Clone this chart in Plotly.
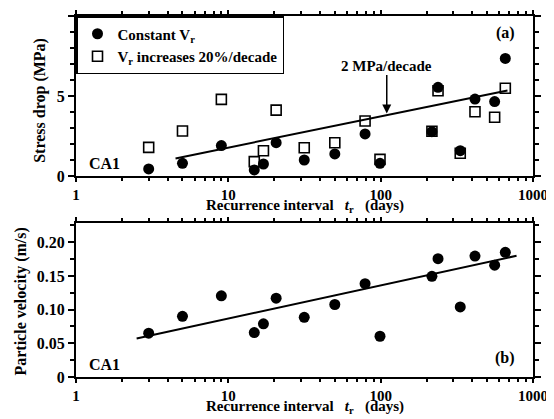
import plotly.graph_objects as go

# ---- data ----
recurrence_days = [3, 5, 9, 14.8, 17, 20.6, 31.5, 50, 79, 99, 217, 238, 333, 416, 560, 658]
stress_constant_vr = [0.44, 0.79, 1.9, 0.38, 0.75, 2.08, 1.0, 1.38, 2.63, 0.79, 2.77, 5.54, 1.58, 4.81, 4.65, 7.35]
stress_vr_increase = [1.79, 2.81, 4.79, 0.9, 1.58, 4.12, 1.77, 2.08, 3.44, 1.04, 2.8, 5.33, 1.42, 4.02, 3.67, 5.48]
particle_velocity = [0.065, 0.09, 0.1205, 0.066, 0.079, 0.117, 0.0886, 0.1076, 0.1386, 0.0605, 0.1495, 0.1757, 0.104, 0.1795, 0.166, 0.185]

fit_stress_x = [4.5, 680]
fit_stress_y = [1.1, 5.35]
fit_vel_x = [2.5, 780]
fit_vel_y = [0.057, 0.18]

stress_ticks = [0, 5, 10]
vel_ticks = [0, 0.05, 0.10, 0.15, 0.20]
vel_ticktext = ["0", "0.05", "0.10", "0.15", "0.20"]

FONT = "Liberation Serif"
fnt = dict(family=FONT, size=16, color="black", weight="bold")
fnt15 = dict(family=FONT, size=15, color="black", weight="bold")

fig = go.Figure()

fig.add_trace(go.Scatter(x=recurrence_days, y=stress_vr_increase, mode="markers",
                         name="V<sub>r</sub> increases 20%/decade", legendrank=2,
                         marker=dict(symbol="square-open", size=10, color="black",
                                     line=dict(width=1.6, color="black")),
                         xaxis="x", yaxis="y"))
fig.add_trace(go.Scatter(x=recurrence_days, y=stress_constant_vr, mode="markers",
                         name="Constant V<sub>r</sub>", legendrank=1,
                         marker=dict(symbol="circle", size=11, color="black"),
                         xaxis="x", yaxis="y"))
fig.add_trace(go.Scatter(x=fit_stress_x, y=fit_stress_y, mode="lines", showlegend=False,
                         line=dict(color="black", width=2), xaxis="x", yaxis="y"))
fig.add_trace(go.Scatter(x=recurrence_days, y=particle_velocity, mode="markers", showlegend=False,
                         marker=dict(symbol="circle", size=11, color="black"),
                         xaxis="x2", yaxis="y2"))
fig.add_trace(go.Scatter(x=fit_vel_x, y=fit_vel_y, mode="lines", showlegend=False,
                         line=dict(color="black", width=2), xaxis="x2", yaxis="y2"))

common = dict(ticks="outside", tickwidth=1.8, tickcolor="black", showline=True,
              linewidth=2, linecolor="black", mirror="ticks", showgrid=False, zeroline=False,
              automargin=False)

xcommon = dict(type="log", range=[0, 3], domain=[0, 1], tickmode="linear", tick0=0, dtick=1,
               exponentformat="none", ticklen=4, tickfont=fnt15,
               minor=dict(dtick="D1", ticks="outside", ticklen=3, tickwidth=1.5,
                          tickcolor="black", showgrid=False), **common)

# the page body adds an 8 px offset, so the figure is 8 px smaller and margins shifted
fig.update_layout(
    width=546, height=411, template="none",
    margin=dict(l=68, r=21, t=8, b=42),
    paper_bgcolor="white", plot_bgcolor="white",
    font=dict(family=FONT, color="black"),
    xaxis=dict(anchor="y", **xcommon),
    xaxis2=dict(anchor="y2", **xcommon),
    yaxis=dict(domain=[0.5568, 1], range=[0, 10], tickmode="array", tickvals=stress_ticks,
               ticklen=6, tickfont=fnt,
               minor=dict(dtick=1, tick0=0, ticks="outside", ticklen=4, tickwidth=1.5,
                          tickcolor="black", showgrid=False), **common),
    yaxis2=dict(domain=[0, 0.4266], range=[0, 0.2286], tickmode="array", tickvals=vel_ticks,
                ticktext=vel_ticktext, ticklen=6, tickfont=fnt,
                minor=dict(dtick=0.025, tick0=0, ticks="outside", ticklen=4, tickwidth=1.5,
                           tickcolor="black", showgrid=False), **common),
    legend=dict(x=0, y=1, xanchor="left", yanchor="top", bgcolor="white",
                bordercolor="black", borderwidth=1.5,
                font=dict(family=FONT, size=15, color="black", weight="bold")),
    showlegend=True,
)

xtitle = "Recurrence interval   <i>t</i><sub>r</sub>   (days)"
anns = [
    dict(text=xtitle, xref="x domain", yref="y domain", x=0.5, y=0, yshift=-30,
         showarrow=False, font=fnt15, xanchor="center", yanchor="middle"),
    dict(text=xtitle, xref="x2 domain", yref="y2 domain", x=0.5, y=0, yshift=-30,
         showarrow=False, font=fnt15, xanchor="center", yanchor="middle"),
    dict(text="Stress drop (MPa)", textangle=-90, xref="paper", x=0, xshift=-36,
         yref="y domain", y=0.47, showarrow=False, font=fnt, xanchor="center", yanchor="middle"),
    dict(text="Particle velocity (m/s)", textangle=-90, xref="paper", x=0, xshift=-55,
         yref="y2 domain", y=0.49, showarrow=False, font=fnt, xanchor="center", yanchor="middle"),
    dict(text="CA1", xref="x domain", yref="y domain", x=0.024, y=0.08, showarrow=False,
         font=fnt, xanchor="left", yanchor="middle"),
    dict(text="CA1", xref="x2 domain", yref="y2 domain", x=0.024, y=0.081, showarrow=False,
         font=fnt, xanchor="left", yanchor="middle"),
    dict(text="(a)", xref="x domain", yref="y domain", x=0.965, y=0.894, showarrow=False,
         font=fnt, xanchor="right", yanchor="middle"),
    dict(text="(b)", xref="x2 domain", yref="y2 domain", x=0.965, y=0.125, showarrow=False,
         font=fnt, xanchor="right", yanchor="middle"),
    dict(text="2 MPa/decade", xref="x", yref="y", x=2.04, y=3.9, ax=0, ay=-48,
         showarrow=True, arrowhead=2, arrowsize=1.2, arrowwidth=1.5, arrowcolor="black",
         font=dict(family=FONT, size=15, color="black", weight="bold")),
]
fig.update_layout(annotations=anns)

fig.write_html("out.html")
